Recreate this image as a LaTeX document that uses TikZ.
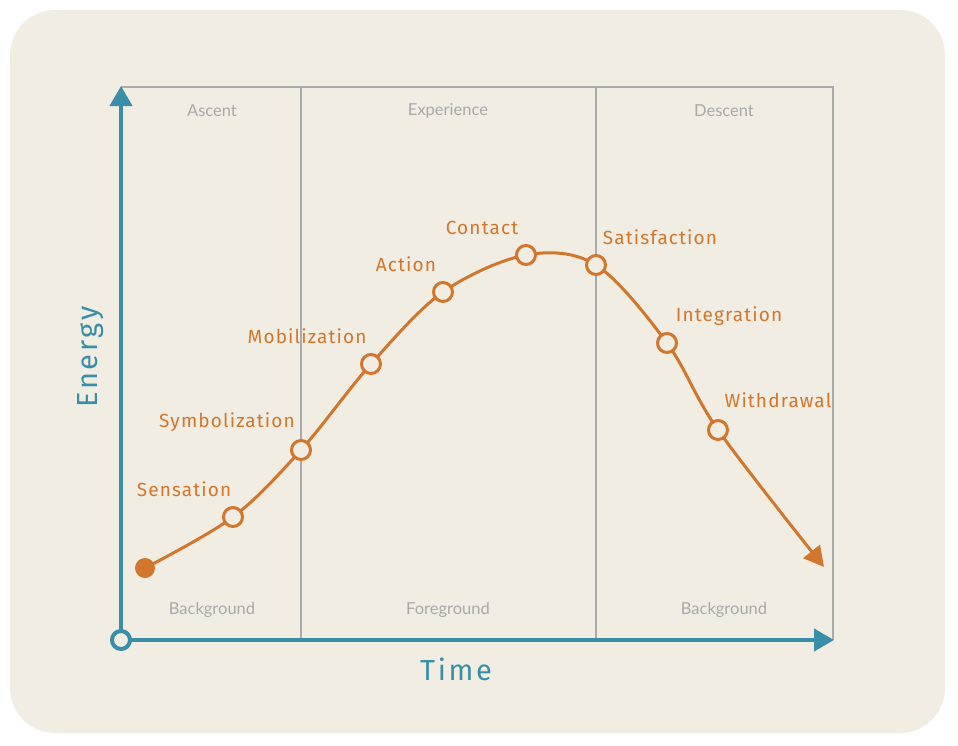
\documentclass[tikz,border=0pt]{standalone}
\usepackage{fontspec}
\setmainfont{Lato}
\newfontfamily\handfont{Fira Sans}[LetterSpace=6]
\newfontfamily\axisfont{Fira Sans}[LetterSpace=9]
\usetikzlibrary{arrows.meta}
\definecolor{paper}{HTML}{F1EDE3}
\definecolor{teal}{HTML}{3A8FA8}
\definecolor{curveor}{HTML}{D2762E}
\definecolor{framegray}{HTML}{AAAAAA}
\definecolor{labelgray}{HTML}{A9A9A9}
\tikzset{
  phase/.style={text=labelgray, font=\fontsize{16.5}{16.5}\selectfont},
  stage/.style={text=curveor, font=\handfont\fontsize{19}{19}\selectfont},
  axislabel/.style={text=teal, font=\axisfont\fontsize{29}{29}\selectfont},
  ring/.style={circle, draw=curveor, fill=paper, line width=3pt, minimum size=19pt, inner sep=0pt},
}
\begin{document}
\begin{tikzpicture}[x=1pt,y=-1pt]
\useasboundingbox (0,0) rectangle (958,745);
\fill[white] (0,0) rectangle (958,745);
\fill[paper, rounded corners=45pt] (10,10) rectangle (945,733);
% frame
\draw[framegray, line width=2pt] (121,87) -- (833,87) -- (833,640);
\draw[framegray, line width=2pt] (301,87) -- (301,640);
\draw[framegray, line width=2pt] (596,87) -- (596,640);
% phase labels
\node[phase] (ascent) at (212,111) {Ascent};
\node[phase] (experience) at (448,111) {Experience};
\node[phase] (descent) at (724,111) {Descent};
\node[phase] (bg1) at (212,610) {Background};
\node[phase] (fg) at (448,610) {Foreground};
\node[phase] (bg2) at (724,610) {Background};
% axes
\coordinate (origin) at (121,640);
\coordinate (ytop) at (121,86);
\coordinate (xend) at (834,640);
\draw[teal, line width=4pt, -{Triangle[length=20pt,width=22pt]}] (origin) -- (ytop);
\draw[teal, line width=4pt, -{Triangle[length=20pt,width=22pt]}] (origin) -- (xend);
\node[circle, draw=teal, fill=paper, line width=4pt, minimum size=18pt, inner sep=0pt] (o) at (origin) {};
\node[axislabel, rotate=90] (energy) at (91,357) {Energy};
\node[axislabel] (time) at (456,669) {Time};
% curve
\coordinate (p0) at (145,568);
\coordinate (p1) at (233,517);
\coordinate (p2) at (301,450);
\coordinate (p3) at (371,364);
\coordinate (p4) at (443,292);
\coordinate (p5) at (526,255);
\coordinate (p6) at (596,265);
\coordinate (p7) at (667,343);
\coordinate (p8) at (718,430);
\coordinate (pend) at (824,567);
\draw[curveor, line width=3pt, -{Triangle[length=20pt,width=21pt]}]
  plot[smooth, tension=0.55] coordinates {(p0) (p1) (p2) (p3) (p4) (p5) (p6) (p7) (p8) (pend)};
\node[circle, fill=curveor, minimum size=20pt, inner sep=0pt] (start) at (p0) {};
\node[ring] (n1) at (p1) {};
\node[ring] (n2) at (p2) {};
\node[ring] (n3) at (p3) {};
\node[ring] (n4) at (p4) {};
\node[ring] (n5) at (p5) {};
\node[ring] (n6) at (p6) {};
\node[ring] (n7) at (p7) {};
\node[ring] (n8) at (p8) {};
% stage labels
\node[stage] (l1) at (184,489) {Sensation};
\node[stage] (l2) at (227,422) {Symbolization};
\node[stage] (l3) at (307,336) {Mobilization};
\node[stage] (l4) at (406,264) {Action};
\node[stage] (l5) at (482,228) {Contact};
\node[stage] (l6) at (660,237) {Satisfaction};
\node[stage] (l7) at (729,316) {Integration};
\node[stage] (l8) at (778,400) {Withdrawal};
\end{tikzpicture}
\end{document}
